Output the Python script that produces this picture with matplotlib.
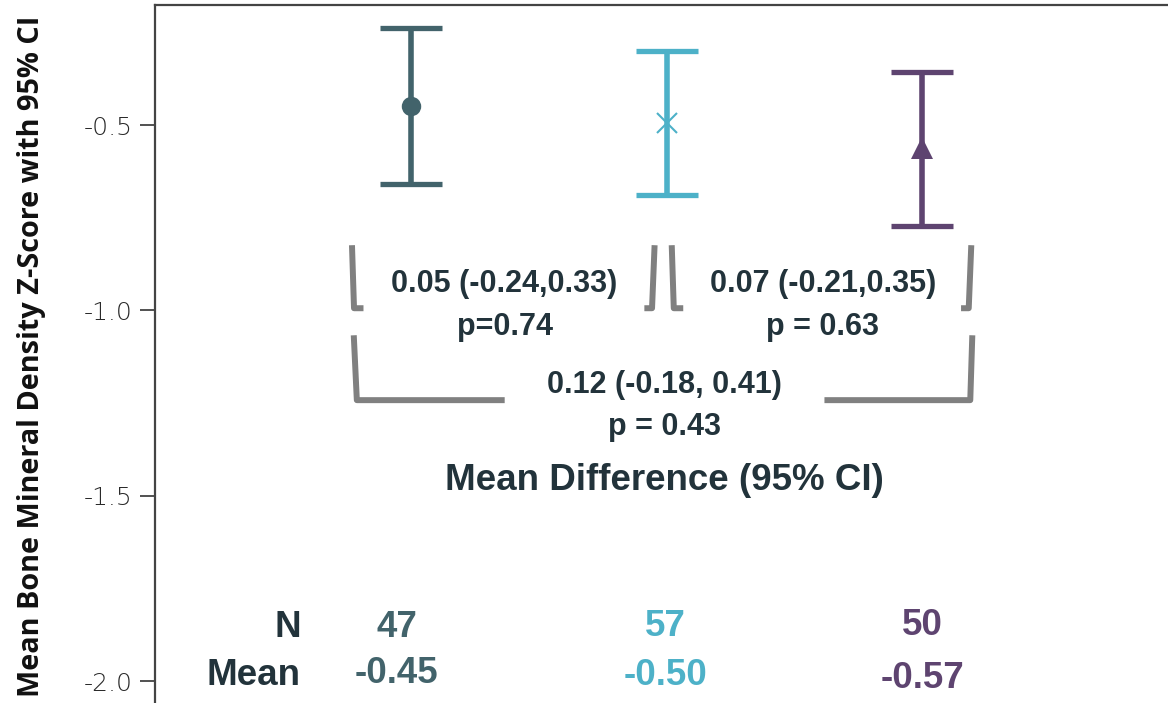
import matplotlib
matplotlib.use("Agg")
from matplotlib import pyplot as plt

groups = [1, 2, 3]
means = [-0.449, -0.495, -0.562]
ci_low = [-0.659, -0.689, -0.773]
ci_high = [-0.238, -0.300, -0.357]
n_labels = ["47", "57", "50"]
mean_labels = ["-0.45", "-0.50", "-0.57"]
colors = ["#42636b", "#4db1c8", "#5e4470"]
markers = ["o", "x", "^"]

# pairwise comparisons: (group a, group b, estimate text, p text)
pairs = [(1, 2, "0.05 (-0.24,0.33)", "p=0.74"),
         (2, 3, "0.07 (-0.21,0.35)", "p = 0.63")]
overall = (1, 3, "0.12 (-0.18, 0.41)", "p = 0.43")

txt = "#22333b"
gray = "#808080"
font = "Liberation Sans"

fig = plt.figure(figsize=(11.68, 7.03), dpi=100)
ax = fig.add_axes([155/1168, 0, 1 - 155/1168, 1 - 5/703])

msize = {"o": 14, "x": 15, "^": 16}
for x, m, lo, hi, c, mk in zip(groups, means, ci_low, ci_high, colors, markers):
    ax.errorbar([x], [m], yerr=[[m - lo], [hi - m]], fmt="none",
                ecolor=c, elinewidth=4, capsize=22, capthick=3.8)
    if mk == "x":
        ax.plot([x], [m], marker="x", color=c, markersize=msize[mk], mew=1.5)
    else:
        ax.plot([x], [m], marker=mk, color=c, markersize=msize[mk], mew=0)

bk = dict(color=gray, lw=4.3, solid_joinstyle="round", solid_capstyle="butt")


def left_hook(x, top, bot):
    ax.plot([x, x + 0.008, x + 0.045], [top, bot, bot], **bk)


def right_hook(x, top, bot):
    ax.plot([x, x - 0.01, x - 0.04], [top, bot, bot], **bk)


# small brackets
top, bot = -0.824, -0.994
for a, b, est, p in pairs:
    xl = a - 0.23 if a == 1 else a + 0.02
    xr = b - 0.047 if b == 2 else b + 0.191
    left_hook(xl, top, bot)
    right_hook(xr, top, bot)
    xc = (xl + xr) / 2 + 0.005
    ax.text(xc, -0.93, est, ha="center", va="center", fontsize=22,
            fontweight="bold", color=txt, family=font)
    ax.text(xc, -1.045, p, ha="center", va="center", fontsize=22,
            fontweight="bold", color=txt, family=font)

# overall bracket
a, b, est, p = overall
xl, xr = a - 0.223, b + 0.195
ytop, ybot = -1.067, -1.242
ax.plot([xl, xl + 0.012, a + 0.367], [ytop, ybot, ybot], **bk)
ax.plot([b - 0.383, xr - 0.008, xr], [ybot, ybot, ytop], **bk)
ax.text(1.99, -1.2, est, ha="center", va="center", fontsize=22,
        fontweight="bold", color=txt, family=font)
ax.text(1.99, -1.315, p, ha="center", va="center", fontsize=22,
        fontweight="bold", color=txt, family=font)
ax.text(1.99, -1.46, "Mean Difference (95% CI)", ha="center", va="center",
        fontsize=26.5, fontweight="bold", color=txt, family=font)

# N and Mean rows
ax.text(0.57, -1.855, "N", ha="right", va="center", fontsize=26.5,
        fontweight="bold", color=txt, family=font)
ax.text(0.57, -1.985, "Mean", ha="right", va="center", fontsize=26.5,
        fontweight="bold", color=txt, family=font)
dx = [-0.055, -0.005, 0.0]
dy = [0.0, -0.006, -0.013]
for x, nl, ml, c, ox, oy in zip(groups, n_labels, mean_labels, colors, dx, dy):
    ax.text(x + ox, -1.855 - oy / 3, nl, ha="center", va="center",
            fontsize=26.5, fontweight="bold", color=c, family=font)
    ax.text(x + ox, -1.98 + oy, ml, ha="center", va="center",
            fontsize=26.5, fontweight="bold", color=c, family=font)

ax.set_xlim(0, 3.96)
ax.set_ylim(-2.059, -0.176)
ax.set_xticks([])
ax.set_yticks([-0.5, -1.0, -1.5, -2.0])
ax.set_yticklabels(["-0.5", "-1.0", "-1.5", "-2.0"])
ax.tick_params(axis="y", direction="out", length=11, width=1.2,
               colors="#333333", labelsize=18, pad=5)
for lab in ax.get_yticklabels():
    lab.set_family("DejaVu Sans")
    lab.set_fontweight("light")
    lab.set_color("#2a2a2a")
ax.spines["right"].set_visible(False)
ax.spines["bottom"].set_visible(False)
for s in ["left", "top"]:
    ax.spines[s].set_linewidth(1.6)
    ax.spines[s].set_color("#444444")

ax.set_ylabel("Mean Bone Mineral Density Z-Score with 95% CI", fontsize=20.8,
              fontweight="bold", family="Open Sans", color="#111111")
ax.yaxis.set_label_coords(-0.108, 0.497)

plt.savefig("out.png", dpi=100)
